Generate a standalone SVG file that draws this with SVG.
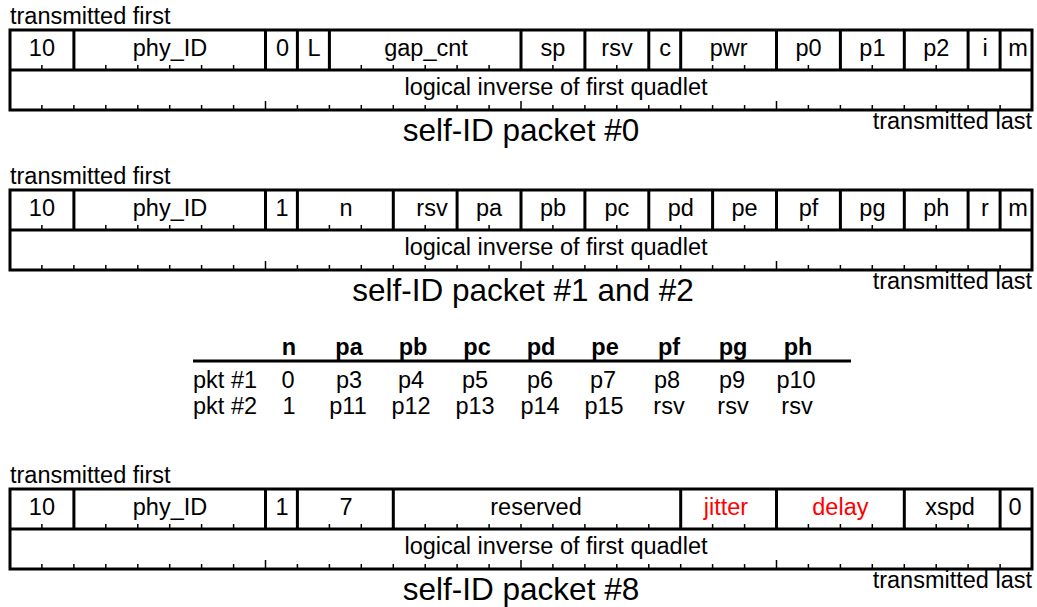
<svg xmlns="http://www.w3.org/2000/svg" xmlns:xlink="http://www.w3.org/1999/xlink" width="1037" height="607" viewBox="0 0 1037 607">
<style>
text{font-family:"Liberation Sans",Arial,Helvetica,sans-serif;font-size:23.5px;fill:#000}
.m{text-anchor:middle}
.e{text-anchor:end}
.ttl{font-size:31.5px}
.red{fill:#ff0000}
.b{font-weight:bold}
.frame{fill:none;stroke:#000;stroke-width:3}
.dv{stroke:#000;stroke-width:3;fill:none}
.tk{stroke:#000;stroke-width:1.5;fill:none}
.rule{stroke:#000;stroke-width:3}
</style>
<defs>
<g id="frame">
<rect class="frame" x="10" y="30" width="1022" height="80"/>
<path class="dv" d="M10 70H1032"/>
<path class="tk" d="M41.9 70V65M73.9 70V65M105.8 70V65M137.8 70V65M169.7 70V65M201.6 70V65M233.6 70V65M265.5 70V65M297.4 70V65M329.4 70V65M361.3 70V65M393.3 70V65M425.2 70V65M457.1 70V65M489.1 70V65M521 70V65M552.9 70V65M584.9 70V65M616.8 70V65M648.8 70V65M680.7 70V65M712.6 70V65M744.6 70V65M776.5 70V65M808.4 70V65M840.4 70V65M872.3 70V65M904.3 70V65M936.2 70V65M968.1 70V65M1000.1 70V65"/>
<path class="tk" d="M41.9 110V105M73.9 110V105M105.8 110V105M137.8 110V105M169.7 110V105M201.6 110V105M233.6 110V105M265.5 110V101M297.4 110V105M329.4 110V105M361.3 110V105M393.3 110V105M425.2 110V105M457.1 110V105M489.1 110V105M521 110V101M552.9 110V105M584.9 110V105M616.8 110V105M648.8 110V105M680.7 110V105M712.6 110V105M744.6 110V105M776.5 110V101M808.4 110V105M840.4 110V105M872.3 110V105M904.3 110V105M936.2 110V105M968.1 110V105M1000.1 110V105"/>
<text x="10" y="24">transmitted first</text>
<text class="e" x="1032" y="129">transmitted last</text>
<text class="m" x="556" y="95">logical inverse of first quadlet</text>
</g>
</defs>
<g id="connectors"/>

<g id="packet0">
<use xlink:href="#frame" href="#frame"/>
<path class="dv" d="M73.9 30V70M265.5 30V70M297.4 30V70M329.4 30V70M521 30V70M584.9 30V70M648.8 30V70M680.7 30V70M776.5 30V70M840.4 30V70M904.3 30V70M968.1 30V70M1000.1 30V70"/>
<g id="p0-f10"><text class="m" x="41.9" y="56">10</text></g>
<g id="p0-phy"><text class="m" x="170" y="56">phy_ID</text></g>
<g id="p0-zero"><text class="m" x="282.5" y="56">0</text></g>
<g id="p0-L"><text class="m" x="314" y="56">L</text></g>
<g id="p0-gap"><text class="m" x="426" y="56">gap_cnt</text></g>
<g id="p0-sp"><text class="m" x="553" y="56">sp</text></g>
<g id="p0-rsv"><text class="m" x="617" y="56">rsv</text></g>
<g id="p0-c"><text class="m" x="665" y="56">c</text></g>
<g id="p0-pwr"><text class="m" x="728.6" y="56">pwr</text></g>
<g id="p0-p0"><text class="m" x="808.5" y="56">p0</text></g>
<g id="p0-p1"><text class="m" x="872.4" y="56">p1</text></g>
<g id="p0-p2"><text class="m" x="936.2" y="56">p2</text></g>
<g id="p0-i"><text class="m" x="985" y="56">i</text></g>
<g id="p0-m"><text class="m" x="1018" y="56">m</text></g>
<text class="m ttl" x="521" y="141">self-ID packet #0</text>
</g>

<g id="packet1" transform="translate(0,160)">
<use xlink:href="#frame" href="#frame"/>
<path class="dv" d="M73.9 30V70M265.5 30V70M297.4 30V70M393.3 30V70M457.1 30V70M521 30V70M584.9 30V70M648.8 30V70M712.6 30V70M776.5 30V70M840.4 30V70M904.3 30V70M968.1 30V70M1000.1 30V70"/>
<g id="p1-f10"><text class="m" x="41.9" y="56">10</text></g>
<g id="p1-phy"><text class="m" x="170" y="56">phy_ID</text></g>
<g id="p1-one"><text class="m" x="282" y="56">1</text></g>
<g id="p1-n"><text class="m" x="346" y="56">n</text></g>
<g id="p1-rsv"><text class="m" x="432" y="56">rsv</text></g>
<g id="p1-pa"><text class="m" x="489.1" y="56">pa</text></g>
<g id="p1-pb"><text class="m" x="553" y="56">pb</text></g>
<g id="p1-pc"><text class="m" x="616.8" y="56">pc</text></g>
<g id="p1-pd"><text class="m" x="680.7" y="56">pd</text></g>
<g id="p1-pe"><text class="m" x="744.6" y="56">pe</text></g>
<g id="p1-pf"><text class="m" x="808.5" y="56">pf</text></g>
<g id="p1-pg"><text class="m" x="872.4" y="56">pg</text></g>
<g id="p1-ph"><text class="m" x="936.2" y="56">ph</text></g>
<g id="p1-r"><text class="m" x="985" y="56">r</text></g>
<g id="p1-m"><text class="m" x="1018" y="56">m</text></g>
<text class="m ttl" x="523" y="141">self-ID packet #1 and #2</text>
</g>

<g id="table">
<path class="rule" d="M193 361H851"/>
<text class="m b" x="289" y="355">n</text>
<text class="m b" x="349" y="355">pa</text>
<text class="m b" x="413" y="355">pb</text>
<text class="m b" x="477" y="355">pc</text>
<text class="m b" x="541" y="355">pd</text>
<text class="m b" x="605" y="355">pe</text>
<text class="m b" x="669" y="355">pf</text>
<text class="m b" x="733" y="355">pg</text>
<text class="m b" x="798" y="355">ph</text>
<text x="193" y="388">pkt #1</text>
<text class="m" x="288" y="388">0</text>
<text class="m" x="349" y="388">p3</text>
<text class="m" x="411" y="388">p4</text>
<text class="m" x="475" y="388">p5</text>
<text class="m" x="540" y="388">p6</text>
<text class="m" x="603" y="388">p7</text>
<text class="m" x="667" y="388">p8</text>
<text class="m" x="732" y="388">p9</text>
<text class="m" x="796" y="388">p10</text>
<text x="193" y="414">pkt #2</text>
<text class="m" x="289" y="414">1</text>
<text class="m" x="348" y="414">p11</text>
<text class="m" x="411" y="414">p12</text>
<text class="m" x="475" y="414">p13</text>
<text class="m" x="540" y="414">p14</text>
<text class="m" x="604" y="414">p15</text>
<text class="m" x="669" y="414">rsv</text>
<text class="m" x="733" y="414">rsv</text>
<text class="m" x="797" y="414">rsv</text>
</g>

<g id="packet8" transform="translate(0,459)">
<use xlink:href="#frame" href="#frame"/>
<path class="dv" d="M73.9 30V70M265.5 30V70M297.4 30V70M393.3 30V70M680.7 30V70M776.5 30V70M904.3 30V70M1000.1 30V70"/>
<g id="p8-f10"><text class="m" x="41.9" y="56">10</text></g>
<g id="p8-phy"><text class="m" x="170" y="56">phy_ID</text></g>
<g id="p8-one"><text class="m" x="282" y="56">1</text></g>
<g id="p8-seven"><text class="m" x="346" y="56">7</text></g>
<g id="p8-reserved"><text class="m" x="536" y="56">reserved</text></g>
<g id="p8-jitter"><text class="m red" x="726" y="56">jitter</text></g>
<g id="p8-delay"><text class="m red" x="840.4" y="56">delay</text></g>
<g id="p8-xspd"><text class="m" x="950" y="56">xspd</text></g>
<g id="p8-zero"><text class="m" x="1015" y="56">0</text></g>
<text class="m ttl" x="521" y="141">self-ID packet #8</text>
</g>
</svg>
